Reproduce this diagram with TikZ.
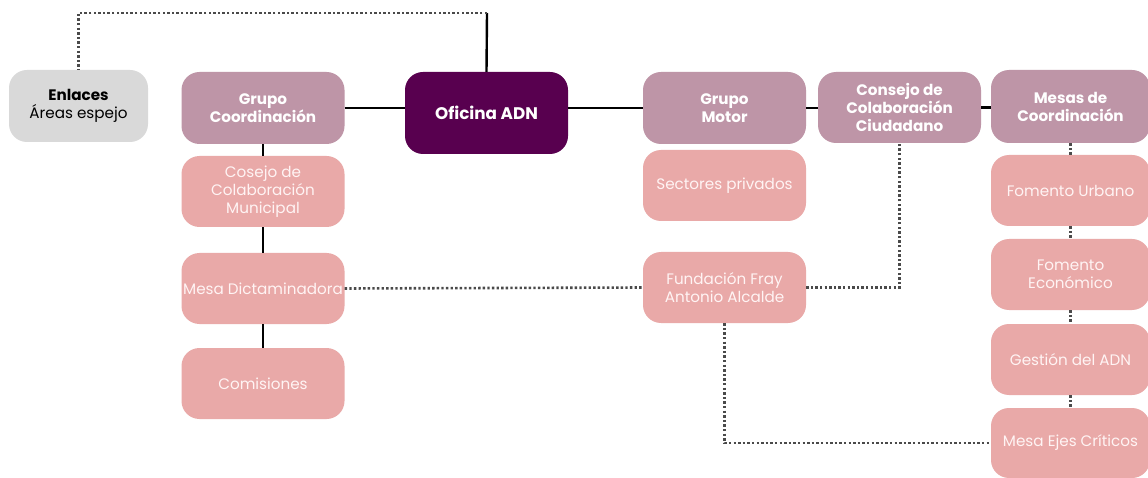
\documentclass[tikz,border=0pt]{standalone}
\usepackage{fontspec}
\setmainfont{Poppins}
\definecolor{mauve}{HTML}{BE95A7}
\definecolor{darkpur}{HTML}{58004F}
\definecolor{pinkbox}{HTML}{E9A9A8}
\definecolor{graybox}{HTML}{D9D9D9}
\definecolor{dotgray}{HTML}{4A4A4A}
\definecolor{pinktext}{HTML}{FFF4F4}
\tikzset{
  box/.style={rounded corners=18pt, align=center, inner sep=1pt,
    font=\fontsize{15.2}{18}\selectfont},
  mainbox/.style={box, fill=mauve, text=white, font=\fontsize{15.2}{18}\selectfont\bfseries,
    minimum width=163pt, minimum height=72pt},
  subbox/.style={box, fill=pinkbox, text=pinktext, minimum width=163pt, minimum height=71pt},
  solidline/.style={line width=2.4pt, draw=black},
  dotline/.style={line width=2.6pt, draw=dotgray, dash pattern=on 2.4pt off 2.2pt},
}
\begin{document}
\begin{tikzpicture}[x=1pt,y=-1pt]
\useasboundingbox[fill=white] (0,0) rectangle (1148,478);
% top row
\node[box, fill=graybox, text=black, minimum width=139pt, minimum height=72pt] (enl) at (78.5,106)
  {{\bfseries Enlaces}\\Áreas espejo};
\node[mainbox] (gc) at (263,108) {Grupo\\Coordinación};
\node[mainbox, fill=darkpur, minimum height=82pt, font=\fontsize{16.8}{18}\selectfont\bfseries] (ofi) at (486.5,113) {Oficina ADN};
\node[mainbox] (gm) at (724.5,108) {Grupo\\Motor};
\node[mainbox, minimum height=71pt] (ccc) at (899.5,107.5) {Consejo de\\Colaboración\\Ciudadano};
\node[mainbox, minimum width=159pt, minimum height=73pt] (mc) at (1070.5,106.5) {Mesas de\\Coordinación};
% left column
\node[subbox] (ccm) at (263,191.5) {Cosejo de\\Colaboración\\Municipal};
\node[subbox] (md) at (263,288.5) {Mesa Dictaminadora};
\node[subbox] (com) at (263,383.5) {Comisiones};
% middle column
\node[subbox] (sp) at (724.5,185.5) {Sectores privados};
\node[subbox] (ffa) at (724.5,287.5) {Fundación Fray\\Antonio Alcalde};
% right column
\node[subbox, minimum width=159pt] (fu) at (1070.5,190.5) {Fomento Urbano};
\node[subbox, minimum width=159pt] (fe) at (1070.5,274.5) {Fomento\\Económico};
\node[subbox, minimum width=159pt] (gadn) at (1070.5,359.5) {Gestión del ADN};
\node[subbox, minimum width=159pt, minimum height=70pt] (mec) at (1070.5,443) {Mesa Ejes Críticos};
% solid connectors
\coordinate (topc) at (487,13);
\draw[solidline] (gc.east) -- (ofi.west |- gc.east);
\draw[solidline] (ofi.east |- gm.west) -- (gm.west);
\draw[solidline] (gm.east) -- (ccc.west |- gm.east);
\draw[solidline] (ccc.east) -- (mc.west |- ccc.east);
\draw[solidline] (ofi.north) -- (topc);
\draw[solidline] (gc.south) -- (ccm.north);
\draw[solidline] (ccm.south) -- (md.north);
\draw[solidline] (md.south) -- (com.north);
% dotted connectors
\draw[dotline] (topc) -| (enl.north);
\draw[dotline] (md.east) -- (ffa.west);
\draw[dotline] (ffa.east) -| (ccc.south);
\draw[dotline] (ffa.south) |- (mec.west);
\draw[dotline] (mc.south) -- (fu.north);
\draw[dotline] (fu.south) -- (fe.north);
\draw[dotline] (fe.south) -- (gadn.north);
\draw[dotline] (gadn.south) -- (mec.north);
\end{tikzpicture}
\end{document}
